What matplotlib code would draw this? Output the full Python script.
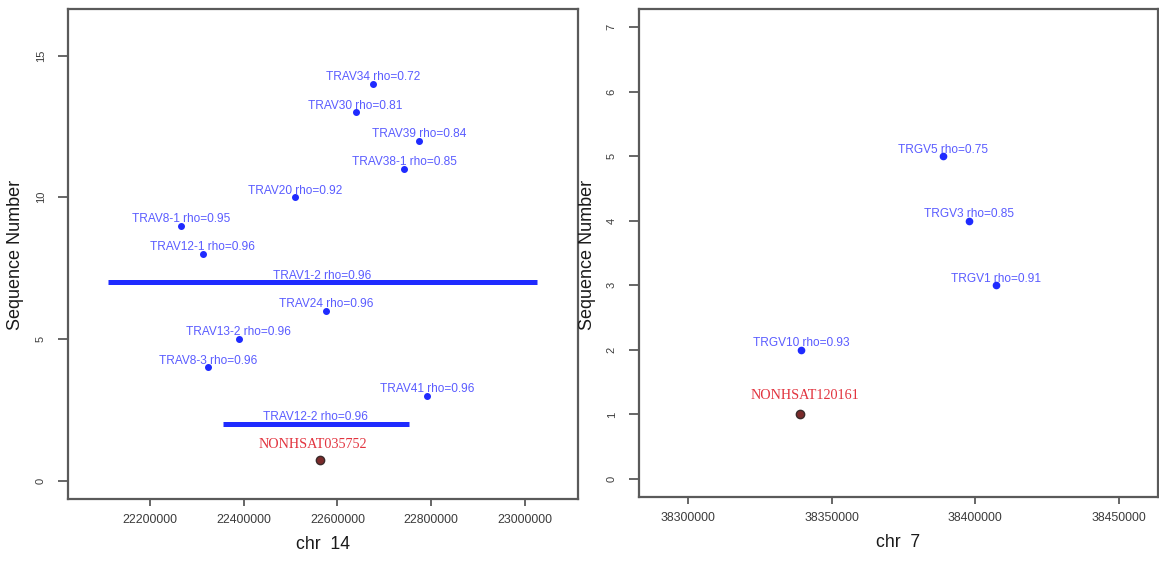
import matplotlib
matplotlib.use("Agg")
import matplotlib.pyplot as plt

# --- datos del panel izquierdo (chr 14) ---
trav_genes = ["TRAV34", "TRAV30", "TRAV39", "TRAV38-1", "TRAV20", "TRAV8-1",
              "TRAV12-1", "TRAV24", "TRAV13-2", "TRAV8-3", "TRAV41"]
trav_pos = [22676400, 22638600, 22773600, 22742700, 22509700, 22267200,
            22312200, 22575300, 22389700, 22324800, 22790300]
trav_seq = [14, 13, 12, 11, 10, 9, 8, 6, 5, 4, 3]
trav_rho = [0.72, 0.81, 0.84, 0.85, 0.92, 0.95, 0.96, 0.96, 0.96, 0.96, 0.96]

# genes largos dibujados como segmentos
trav_long_genes = ["TRAV1-2", "TRAV12-2"]
trav_long_start = [22110400, 22356400]
trav_long_end = [23025600, 22751500]
trav_long_seq = [7, 2]
trav_long_rho = [0.96, 0.96]

lnc_left = "NONHSAT035752"
lnc_left_pos = 22562700
lnc_left_seq = 0.74

# --- datos del panel derecho (chr 7) ---
trgv_genes = ["TRGV5", "TRGV3", "TRGV1", "TRGV10"]
trgv_pos = [38388900, 38397900, 38407100, 38339400]
trgv_seq = [5, 4, 3, 2]
trgv_rho = [0.75, 0.85, 0.91, 0.93]

lnc_right = "NONHSAT120161"
lnc_right_pos = 38339100
lnc_right_seq = 1

left_xticks = [22200000, 22400000, 22600000, 22800000, 23000000]
right_xticks = [38300000, 38350000, 38400000, 38450000]

# estilos
W, H = 1159, 562
dot_color = "#1f2bff"
label_color = "#5a5cff"
red_text = "#e2343f"
axis_gray = "#5a5a5a"
tick_gray = "#3c3c3c"

fig = plt.figure(figsize=(W / 100, H / 100), dpi=100)


def style_axes(ax, xticks, yticks, xlabel):
    for s in ax.spines.values():
        s.set_color(axis_gray)
        s.set_linewidth(1.6)
    ax.set_xticks(xticks)
    ax.set_xticklabels([str(t) for t in xticks], fontsize=8.9,
                       family="Liberation Sans", color=tick_gray)
    ax.set_yticks(yticks)
    ax.set_yticklabels([str(t) for t in yticks], fontsize=8, rotation=90,
                       va="center", family="Liberation Sans", color=tick_gray)
    ax.tick_params(axis="x", length=5, width=1.3, color=axis_gray, pad=6)
    ax.tick_params(axis="y", length=7, width=1.3, color=axis_gray, pad=9)
    ax.set_xlabel(xlabel, fontsize=12.7, family="Liberation Sans",
                  color="#1a1a1a", labelpad=7)


def label_above(ax, x, y, txt, dy=4.8):
    ax.annotate(txt, (x, y), xytext=(0, dy), textcoords="offset points",
                ha="center", va="center", fontsize=8.6,
                family="Liberation Sans", color=label_color)


# Panel izquierdo
ax1 = fig.add_axes([68 / W, (H - 499) / H, 510 / W, 490 / H])
ax1.set_xlim(22025070, 23113070)
ax1.set_ylim(-0.64, 16.64)
style_axes(ax1, left_xticks, [0, 5, 10, 15], "chr  14")

for g, x, y, r in zip(trav_genes, trav_pos, trav_seq, trav_rho):
    ax1.plot(x, y, "o", color=dot_color, markersize=4, zorder=3)
    label_above(ax1, x, y, f"{g} rho={r:.2f}")

for g, x0, x1, y, r in zip(trav_long_genes, trav_long_start, trav_long_end,
                           trav_long_seq, trav_long_rho):
    ax1.plot([x0, x1], [y, y], color=dot_color, linewidth=3.6,
             solid_capstyle="butt", zorder=3)
    label_above(ax1, (x0 + x1) / 2, y, f"{g} rho={r:.2f}")

ax1.plot(lnc_left_pos, lnc_left_seq, "o", color="#7a2a2a", markeredgecolor="#3a2a2a",
         markersize=6, zorder=3)
ax1.annotate(lnc_left, (lnc_left_pos, lnc_left_seq), xytext=(-5, 11),
             textcoords="offset points", ha="center", va="center",
             fontsize=10.2, family="Liberation Serif", color=red_text)

# Panel derecho
ax2 = fig.add_axes([639 / W, (H - 497) / H, 519 / W, 488 / H])
ax2.set_xlim(38282990, 38463540)
ax2.set_ylim(-0.28, 7.28)
style_axes(ax2, right_xticks, list(range(8)), "chr  7")

for g, x, y, r in zip(trgv_genes, trgv_pos, trgv_seq, trgv_rho):
    ax2.plot(x, y, "o", color=dot_color, markersize=4.5, zorder=3)
    label_above(ax2, x, y, f"{g} rho={r:.2f}")

ax2.plot(lnc_right_pos, lnc_right_seq, "o", color="#7a2a2a", markeredgecolor="#3a2a2a",
         markersize=6, zorder=3)
ax2.annotate(lnc_right, (lnc_right_pos, lnc_right_seq), xytext=(3, 13.5),
             textcoords="offset points", ha="center", va="center",
             fontsize=10.2, family="Liberation Serif", color=red_text)

# etiquetas del eje y
fig.text(16 / W, 1 - 255 / H, "Sequence Number", rotation=90, ha="center",
         va="center", fontsize=13, family="Liberation Sans", color="#1a1a1a")
fig.text(587 / W, 1 - 255 / H, "Sequence Number", rotation=90, ha="center",
         va="center", fontsize=13, family="Liberation Sans", color="#1a1a1a")

fig.savefig("out.png", dpi=100)
